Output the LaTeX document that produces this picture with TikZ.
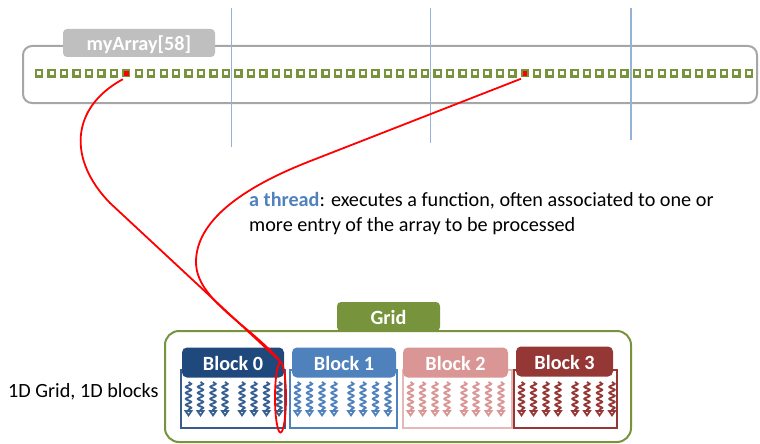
\documentclass[tikz,border=0pt]{standalone}
\usepackage{fontspec}
\setmainfont{Carlito}
\usetikzlibrary{shapes.geometric, decorations.pathmorphing, arrows.meta}

\definecolor{gridgreen}{HTML}{77933C}
\definecolor{framegray}{HTML}{A6A6A6}
\definecolor{taggray}{HTML}{BFBFBF}
\definecolor{sepblue}{HTML}{95B3D7}
\definecolor{blkA}{HTML}{1F497D}
\definecolor{blkAthr}{HTML}{376092}
\definecolor{blkAedge}{HTML}{385D8A}
\definecolor{blkB}{HTML}{4F81BD}
\definecolor{blkC}{HTML}{D99694}
\definecolor{blkCedge}{HTML}{E6B9B8}
\definecolor{blkD}{HTML}{953735}

\begin{document}
\begin{tikzpicture}[x=1pt, y=-1pt,
  font=\fontsize{20.2}{24}\selectfont,
  cell/.style={rectangle, draw=gridgreen, fill=white, line width=2.2pt,
    minimum size=6.2pt, inner sep=0pt},
  hit/.style={cell, fill=red, line width=1.8pt},
  arraybox/.style={rectangle, draw=framegray, line width=2pt, rounded corners=9pt,
    minimum width=734pt, minimum height=57pt, inner sep=0pt},
  tag/.style={rectangle, rounded corners=4pt, text=white, inner sep=0pt,
    font=\fontsize{20.2}{24}\selectfont\bfseries, text height=15pt, text depth=0pt},
  sep/.style={draw=sepblue, line width=1.2pt},
  blockbody/.style={rectangle, fill=white, line width=1.6pt, minimum height=58pt,
    inner sep=0pt},
  blockhead/.style={tag, minimum height=30pt, rounded corners=5pt},
  thread/.style={line width=1.9pt, decorate,
    decoration={snake, amplitude=2.6pt, segment length=6pt, post length=7pt},
    -{Triangle[open, width=9pt, length=7pt]}},
  wire/.style={draw=red, line width=1.8pt},
  plain/.style={inner sep=0pt, anchor=base west}
]
\useasboundingbox (0,0) rectangle (760,444);

% the array and its label
\node[arraybox] (arr) at (390,74.5) {};
\node[tag, fill=taggray, minimum width=152pt, minimum height=28pt] (arrtag) at (139,43) {myArray[58]};

% 58 entries, two of them highlighted
\foreach \i in {0,...,57}{
  \ifnum\i=7 \def\st{hit}\else\ifnum\i=39 \def\st{hit}\else\def\st{cell}\fi\fi
  \node[\st] (c\i) at ({39.2+12.45*\i},73.3) {};
}

% separators across the array
\draw[sep] (231.5,8) -- (231.5,147);
\draw[sep] (430.7,8) -- (430.7,143);
\draw[sep] (631,8) -- (631,140);

% explanation
\node[plain] (desc1) at (249,206.7) {\textcolor{blkB}{\bfseries a thread}: executes a function, often associated to one or};
\node[plain] (desc2) at (249,231.7) {more entry of the array to be processed};

% the grid
\node[rectangle, draw=gridgreen, line width=2pt, rounded corners=14pt,
  minimum width=466pt, minimum height=111pt, inner sep=0pt] (grid) at (398,386.5) {};
\node[tag, fill=gridgreen, minimum width=103pt, minimum height=29pt] (gridtag) at (388.5,316.5) {Grid};
\node[plain] (side) at (8,397.5) {1D Grid, 1D blocks};

% block bodies
\node[blockbody, draw=blkAedge, minimum width=104pt] (b0) at (233,399) {};
\node[blockbody, draw=blkB, minimum width=107pt] (b1) at (343.5,399) {};
\node[blockbody, draw=blkCedge, minimum width=109pt] (b2) at (457.5,399) {};
\node[blockbody, draw=blkD, minimum width=103pt] (b3) at (565.5,399) {};

% threads of each block
\foreach \bx/\c in {181/blkAthr, 290/blkB, 403/blkC, 514/blkD}
  \foreach \o in {7.5,19.5,32,44,61,73,85.5,98}
    \draw[thread, \c] (\bx+\o,382) -- (\bx+\o,417);

% block headers
\node[blockhead, fill=blkA, minimum width=102pt] (h0) at (233,362.5) {Block 0};
\node[blockhead, fill=blkB, minimum width=104pt] (h1) at (344,362.5) {Block 1};
\node[blockhead, fill=blkC, minimum width=105pt] (h2) at (455.5,362.5) {Block 2};
\node[blockhead, fill=blkD, minimum width=97pt] (h3) at (564.5,361.5) {Block 3};

% the selected thread and its links to the array entries
\node[ellipse, draw=red, line width=1.8pt, minimum width=11pt, minimum height=70pt,
  inner sep=0pt] (sel) at (280.5,397.5) {};
\draw[wire, shorten <=4pt] (c7.south) .. controls (70,108) and (68,160) .. (110,203) -- (sel.north);
\draw[wire, shorten <=4pt] (c39.south) -- (313,160)
  .. controls (240,188) and (196,222) .. (196,262)
  .. controls (196,300) and (250,325) .. (sel.north);
\end{tikzpicture}
\end{document}
